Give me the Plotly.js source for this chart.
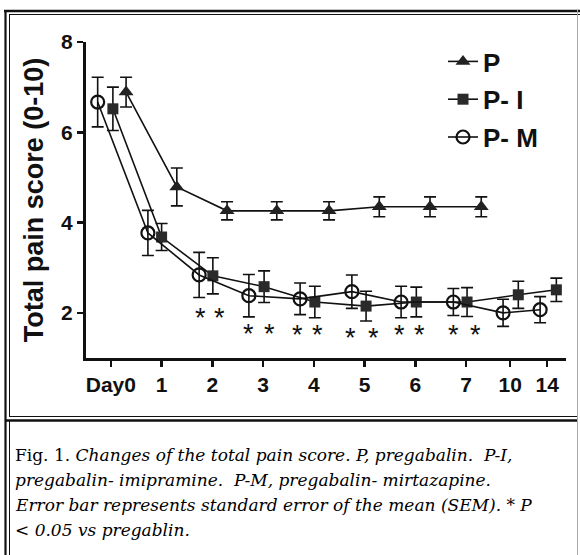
<!DOCTYPE html>
<html><head><meta charset="utf-8">
<script src="https://cdn.plot.ly/plotly-3.0.1.min.js"></script>
<style>html,body{margin:0;padding:0;background:#fff}#chart{width:580px;height:555px}</style>
</head><body><div id="chart"></div>
<script>
// ---- data ----
const dayLabels = ['Day0', '1', '2', '3', '4', '5', '6', '7', '10', '14'];
const dayTickPos = [0, 1, 2, 3, 4, 5, 6, 7, 7.87, 8.6];

const pX   = [0.30, 1.30, 2.29, 3.27, 4.30, 5.29, 6.29, 7.30];
const pY   = [6.89, 4.79, 4.26, 4.26, 4.26, 4.35, 4.35, 4.35];
const pErr = [0.33, 0.42, 0.20, 0.20, 0.20, 0.22, 0.22, 0.22];

const piX   = [0.04, 1.00, 2.01, 3.02, 4.02, 5.03, 6.02, 7.02, 8.03, 8.78];
const piY   = [6.52, 3.68, 2.82, 2.58, 2.24, 2.15, 2.24, 2.24, 2.40, 2.51];
const piErr = [0.48, 0.30, 0.40, 0.35, 0.35, 0.33, 0.33, 0.32, 0.30, 0.26];

const pmX   = [-0.26, 0.73, 1.74, 2.72, 3.73, 4.75, 5.72, 6.75, 7.73, 8.46];
const pmY   = [6.67, 3.77, 2.84, 2.38, 2.31, 2.47, 2.24, 2.24, 2.00, 2.07];
const pmErr = [0.55, 0.50, 0.50, 0.47, 0.35, 0.37, 0.35, 0.30, 0.30, 0.29];

const astX = [1.76, 2.15, 2.72, 3.12, 3.67, 4.08, 4.73, 5.17, 5.68, 6.09, 6.75, 7.18];
const astY = [2.02, 2.02, 1.67, 1.67, 1.65, 1.65, 1.58, 1.58, 1.65, 1.65, 1.65, 1.65];

const seriesNames = ['P', 'P- I', 'P- M'];
const yTicks = [2, 4, 6, 8];
const yTitle = 'Total pain score (0-10)';
const captionLines = [
  'Fig. 1. <i>Changes of the total pain score. P, pregabalin.  P-I,</i>',
  '<i>pregabalin- imipramine.  P-M, pregabalin- mirtazapine.</i>',
  '<i>Error bar represents standard error of the mean (SEM). * P</i>',
  '<i>&lt; 0.05 vs pregablin.</i>'
];

// ---- layout helpers (pixel -> paper) ----
const L = 86, R = 566, T = 42, B = 358;
const PX = x => (x - L) / (R - L);
const PY = y => (B - y) / (B - T);

const SANS = 'Liberation Sans, Arial, sans-serif';
const ink = '#111';

function errBar(arr) {
  return {type: 'data', array: arr, visible: true, color: ink, thickness: 1.6, width: 6};
}

const traces = [
  {x: pX, y: pY, name: seriesNames[0], legendgroup: 'a', type: 'scatter', mode: 'lines+markers',
   line: {color: ink, width: 1.6}, marker: {symbol: 'triangle-up', size: 13, color: '#222'},
   error_y: errBar(pErr)},
  {x: piX, y: piY, name: seriesNames[1], legendgroup: 'b', type: 'scatter', mode: 'lines+markers',
   line: {color: ink, width: 1.6}, marker: {symbol: 'square', size: 11, color: '#2a2a2a'},
   error_y: errBar(piErr)},
  {x: pmX, y: pmY, name: seriesNames[2], legendgroup: 'c', type: 'scatter', mode: 'lines+markers',
   line: {color: ink, width: 1.6}, marker: {symbol: 'circle-open', size: 13, color: ink, line: {width: 2.2, color: ink}},
   error_y: errBar(pmErr)}
];

const shapes = [];
function hline(x0, x1, y, w, c) { shapes.push({type: 'line', xref: 'paper', yref: 'paper', x0: PX(x0), x1: PX(x1), y0: PY(y), y1: PY(y), line: {width: w, color: c || ink}}); }
function vline(x, y0, y1, w, c) { shapes.push({type: 'line', xref: 'paper', yref: 'paper', x0: PX(x), x1: PX(x), y0: PY(y0), y1: PY(y1), line: {width: w, color: c || ink}}); }
hline(4, 580, 11, 2.5);
hline(9, 580, 14.5, 1);
vline(5.5, 10, 555, 2.2);
vline(9.5, 14, 416, 1);
vline(9.5, 421, 555, 1);
hline(9, 578, 416.5, 1);
hline(5, 578, 420.5, 2.5);
vline(577.5, 10, 555, 1, '#aaa');

const annotations = captionLines.map((t, i) => ({
  xref: 'paper', yref: 'paper', x: PX(13), y: PY(455 + i * 25), xanchor: 'left', yanchor: 'middle',
  text: t, showarrow: false, align: 'left',
  font: {family: 'DejaVu Serif, serif', size: 17, color: '#000'}
}));
astX.forEach((x, i) => annotations.push({
  x: x, y: astY[i], xref: 'x', yref: 'y', text: '*', showarrow: false, yshift: -6,
  font: {family: SANS, size: 27, color: ink}
}));

const layout = {
  width: 580, height: 555,
  margin: {l: L, r: 580 - R, t: T, b: 555 - B},
  paper_bgcolor: '#fff', plot_bgcolor: '#fff',
  showlegend: true,
  legend: {x: PX(443), y: PY(38), xanchor: 'left', yanchor: 'top', tracegroupgap: 1,
           font: {family: SANS, size: 26, color: ink, weight: 'bold'}, bgcolor: 'rgba(0,0,0,0)'},
  xaxis: {range: [-0.49, 8.97], tickvals: dayTickPos, ticktext: dayLabels, ticks: 'outside', ticklen: 6,
          tickwidth: 2.5, tickcolor: ink, showline: true, linewidth: 3, linecolor: ink, showgrid: false, zeroline: false,
          tickfont: {family: SANS, size: 21, color: ink, weight: 'bold'}},
  yaxis: {range: [1, 8], tickvals: yTicks, ticks: 'outside', ticklen: 6, tickwidth: 2.5, tickcolor: ink,
          showline: true, linewidth: 3, linecolor: ink, showgrid: false, zeroline: false,
          tickfont: {family: SANS, size: 21, color: ink, weight: 'bold'},
          title: {text: yTitle, standoff: 10, font: {family: SANS, size: 27, color: ink, weight: 'bold'}}},
  shapes: shapes,
  annotations: annotations
};

Plotly.newPlot('chart', traces, layout, {displayModeBar: false, staticPlot: true});
</script></body></html>
